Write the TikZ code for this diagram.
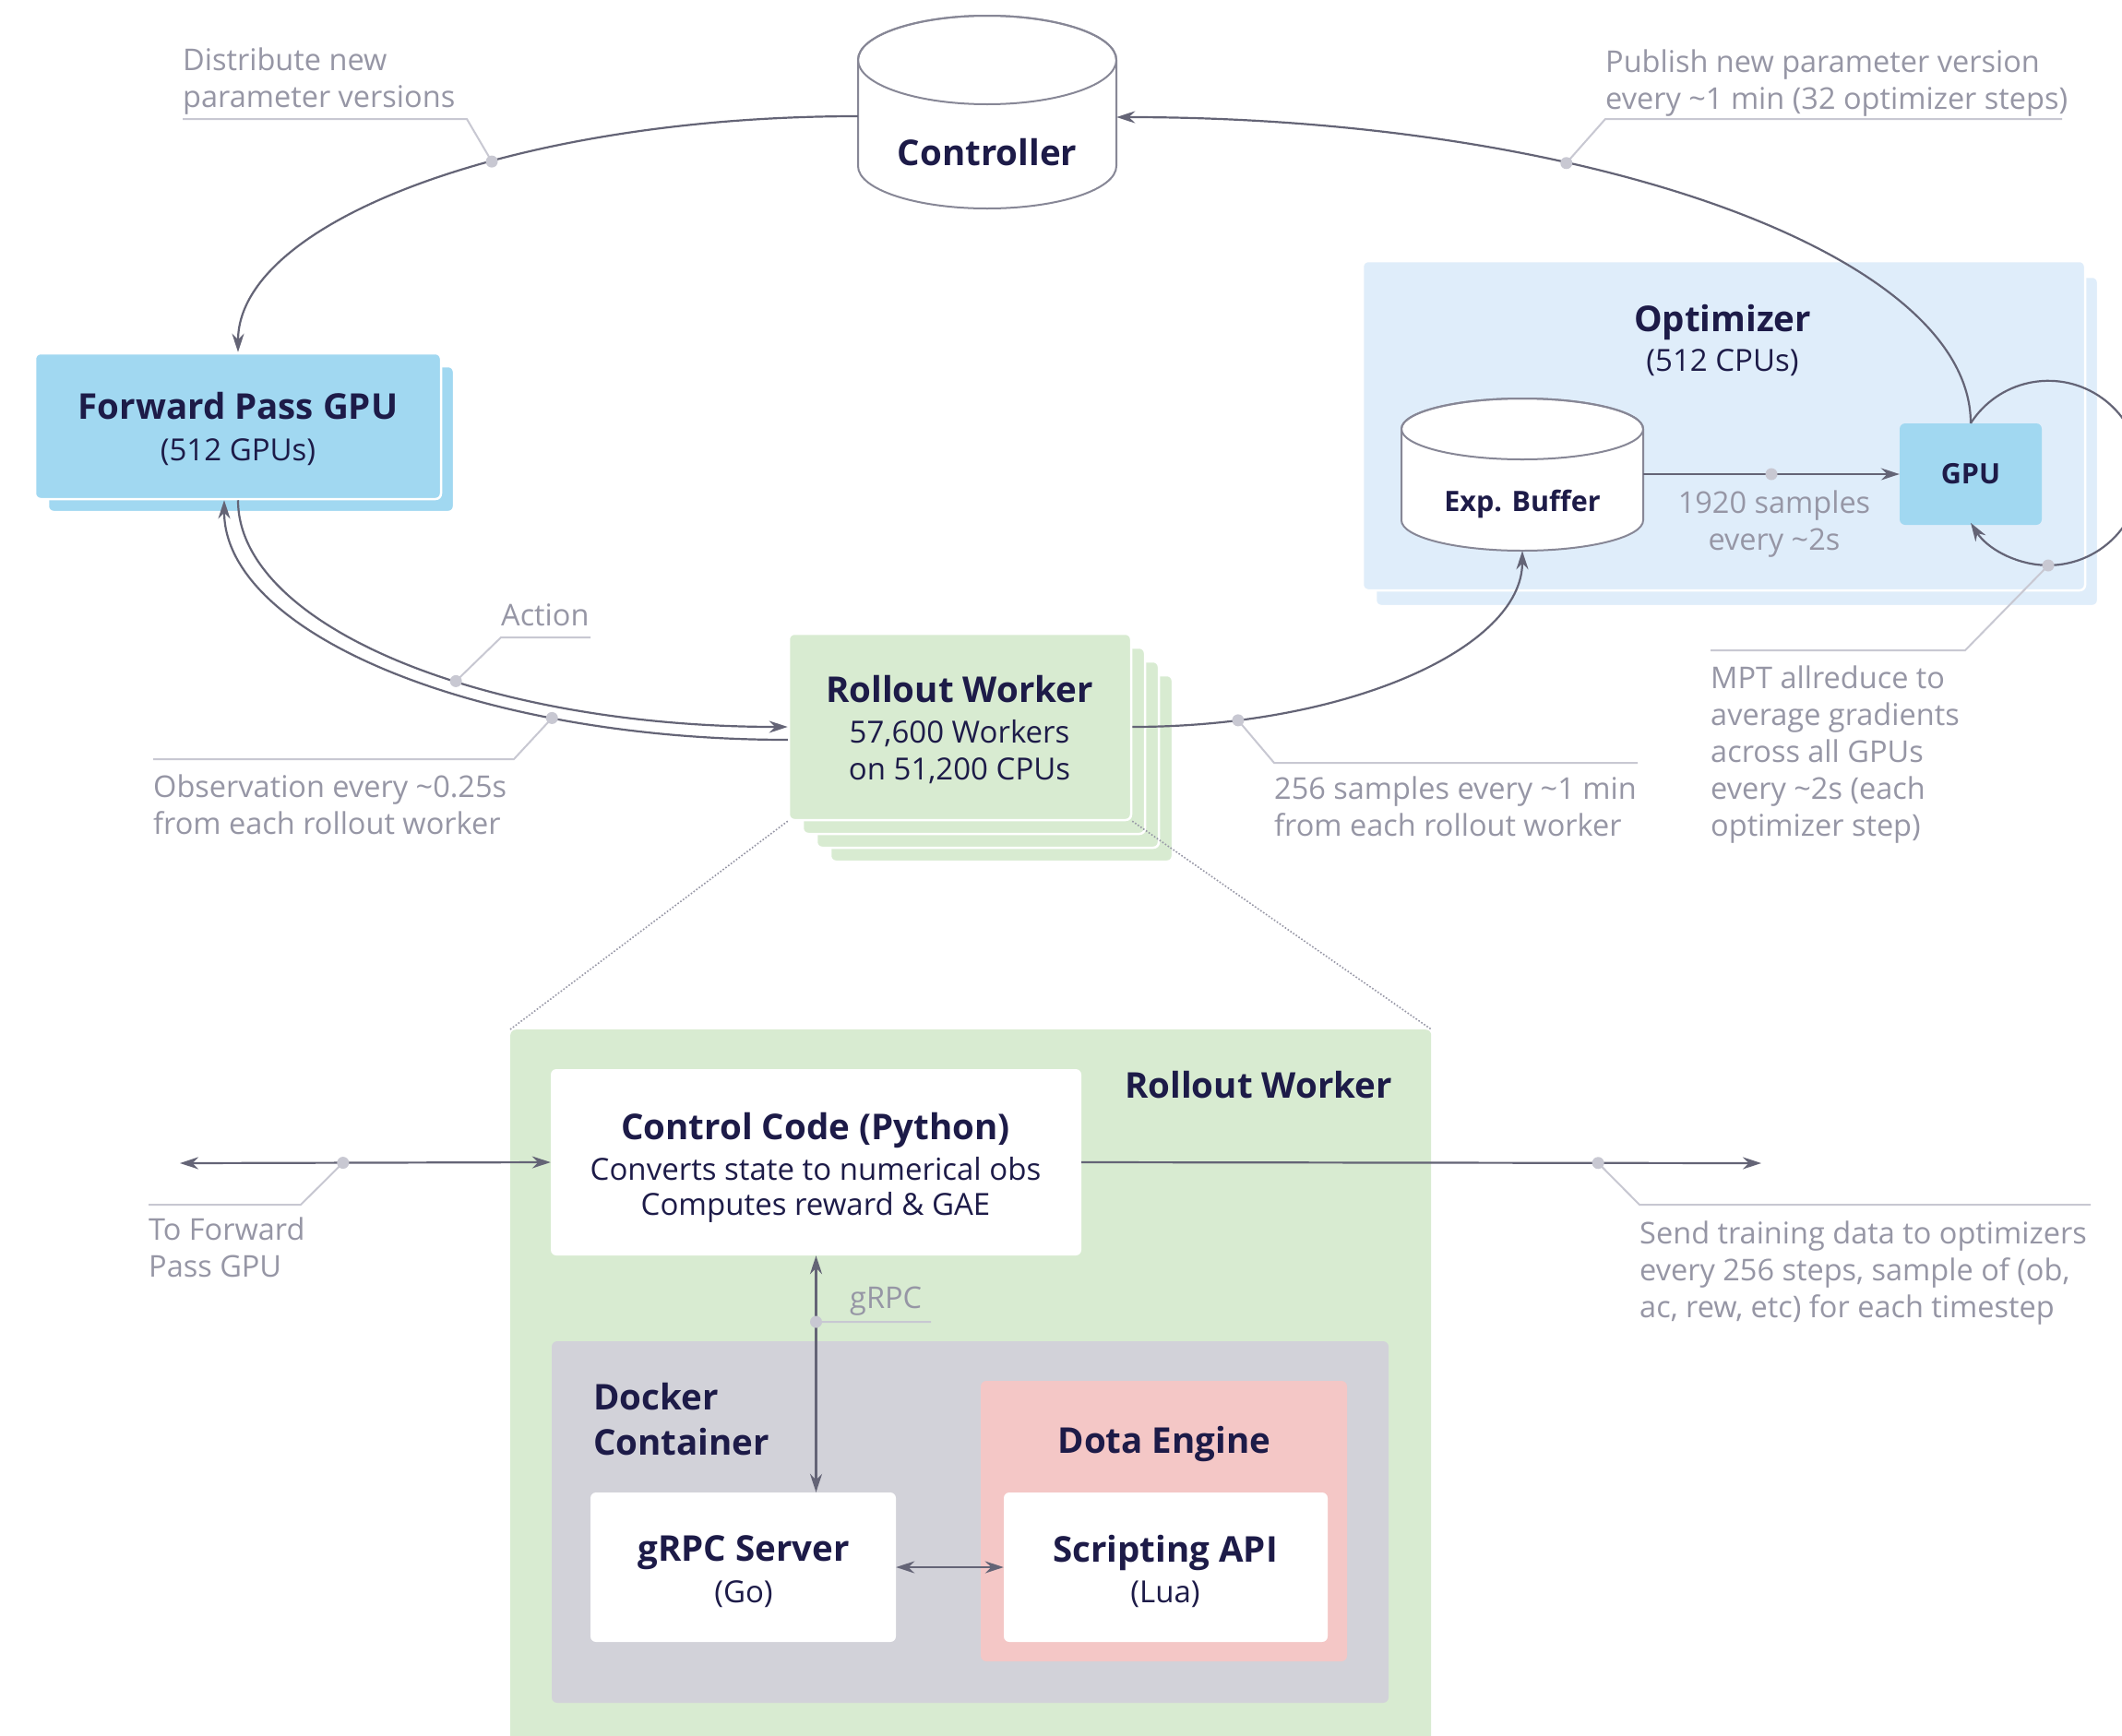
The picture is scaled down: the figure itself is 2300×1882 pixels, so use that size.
\documentclass[tikz,border=0pt]{standalone}
\usepackage{fontspec}
\setmainfont{Open Sans}
\usetikzlibrary{arrows.meta,calc}
\definecolor{navy}{RGB}{29,27,72}
\definecolor{labgray}{RGB}{150,150,165}
\definecolor{leadgray}{RGB}{200,200,210}
\definecolor{conngray}{RGB}{100,100,118}
\definecolor{cylgray}{RGB}{135,135,150}
\definecolor{fwdblue}{RGB}{161,216,241}
\definecolor{optblue}{RGB}{223,237,250}
\definecolor{rwgreen}{RGB}{216,235,209}
\definecolor{dockgray}{RGB}{210,210,217}
\definecolor{dotapink}{RGB}{244,199,198}
\begin{document}
\begin{tikzpicture}[x=1pt,y=-1pt,
 sbox/.style={rectangle, rounded corners=6pt, draw=white, line width=2.5pt, inner sep=0pt},
 flat/.style={rectangle, rounded corners=6pt, draw=none, inner sep=0pt},
 ttl/.style={font=\fontsize{38.5}{46}\selectfont\bfseries, text=navy, inner sep=0pt},
 sttl/.style={font=\fontsize{30.5}{36}\selectfont\bfseries, text=navy, inner sep=0pt},
 bdy/.style={font=\fontsize{33}{40}\selectfont, text=navy, inner sep=0pt},
 lab/.style={font=\fontsize{32.5}{40}\selectfont, text=labgray, align=left, inner sep=0pt},
 conn/.style={draw=conngray, line width=2.2pt},
 arrowend/.style={-{Stealth[length=20pt,width=13pt]}},
 arrowboth/.style={{Stealth[length=20pt,width=13pt]}-{Stealth[length=20pt,width=13pt]}},
 leader/.style={draw=leadgray, line width=2pt},
 cyl/.style={draw=cylgray, line width=2pt, fill=white},
 dotline/.style={draw=labgray, line width=1.6pt, dotted},
 ldot/.style={fill=leadgray}
]
\useasboundingbox (0,0) rectangle (2300,1882);
\fill[white] (0,0) rectangle (2300,1882);

% ---------- Forward pass GPU
\node[sbox, fill=fwdblue, minimum width=440pt, minimum height=158pt] (fwdsh) at (272,476) {};
\node[sbox, fill=fwdblue, minimum width=440pt, minimum height=158pt] (fwd) at (258,462) {};
\node[ttl, anchor=base] (fwdT) at (258,454) {Forward Pass GPU};
\node[bdy, anchor=base] (fwdS) at (258,499) {(512 GPUs)};

% ---------- Controller cylinder
\filldraw[cyl] (930,65) -- (930,180) arc[start angle=180,end angle=0,x radius=140,y radius=46] -- (1210,65) arc[start angle=0,end angle=-180,x radius=140,y radius=48] -- cycle;
\draw[cyl, fill=none] (1070,65) ellipse[x radius=140, y radius=48];
\node[inner sep=0pt, minimum width=280pt, minimum height=161pt] (ctrl) at (1070,145.5) {};
\node[ttl, anchor=base] (ctrlT) at (1070,179) {Controller};

% ---------- Optimizer
\node[sbox, fill=optblue, minimum width=783pt, minimum height=357pt] (optsh) at (1882.5,478.5) {};
\node[sbox, fill=optblue, minimum width=783pt, minimum height=357pt] (opt) at (1868.5,461.5) {};
\node[ttl, anchor=base] (optT) at (1867,359) {Optimizer};
\node[bdy, anchor=base] (optS) at (1867,402) {(512 CPUs)};
\node[flat, fill=fwdblue, minimum width=154pt, minimum height=110pt, sttl] (gpu) at (2136,514) {GPU};

% Exp. Buffer cylinder
\filldraw[cyl] (1519,465) -- (1519,564) arc[start angle=180,end angle=0,x radius=131,y radius=33] -- (1781,465) arc[start angle=0,end angle=-180,x radius=131,y radius=33] -- cycle;
\draw[cyl, fill=none] (1650,465) ellipse[x radius=131, y radius=33];
\node[inner sep=0pt, minimum width=262pt, minimum height=132pt] (expbuf) at (1650,531) {};
\node[sttl, anchor=base] (expbufT) at (1650,554) {Exp. Buffer};

% ---------- Rollout worker stack
\node[sbox, fill=rwgreen, minimum width=371pt, minimum height=202pt] (rw3) at (1085.5,833) {};
\node[sbox, fill=rwgreen, minimum width=371pt, minimum height=202pt] (rw2) at (1070.5,818) {};
\node[sbox, fill=rwgreen, minimum width=371pt, minimum height=202pt] (rw1) at (1055.5,803) {};
\node[sbox, fill=rwgreen, minimum width=371pt, minimum height=202pt] (rw) at (1040.5,788) {};
\node[ttl, anchor=base] (rwT) at (1040,761) {Rollout Worker};
\node[bdy, anchor=base] (rwS1) at (1040,805) {57,600 Workers};
\node[bdy, anchor=base] (rwS2) at (1040,845) {on 51,200 CPUs};

% ---------- Rollout worker detail panel
\node[flat, fill=rwgreen, minimum width=998pt, minimum height=800pt, anchor=north west] (rwp) at (553,1116) {};
\draw[dotline] (rw.south west) -- (rwp.north west);
\draw[dotline] (rw.south east) -- (rwp.north east);
\node[ttl, anchor=base] (rwpT) at (1364,1190) {Rollout Worker};

\node[flat, fill=white, minimum width=575pt, minimum height=202pt] (ccode) at (884.5,1260) {};
\node[ttl, anchor=base] (ccodeT) at (884,1235) {Control Code (Python)};
\node[bdy, anchor=base] (ccodeS1) at (884,1279) {Converts state to numerical obs};
\node[bdy, anchor=base] (ccodeS2) at (884,1317) {Computes reward \& GAE};

\node[flat, fill=dockgray, minimum width=907pt, minimum height=392pt] (dock) at (1051.5,1650) {};
\node[ttl, anchor=base west] (dockT1) at (643,1528) {Docker};
\node[ttl, anchor=base west] (dockT2) at (643,1577) {Container};

\node[flat, fill=dotapink, minimum width=397pt, minimum height=304pt] (dota) at (1261.5,1649) {};
\node[ttl, anchor=base] (dotaT) at (1262,1575) {Dota Engine};

\node[flat, fill=white, minimum width=331pt, minimum height=162pt] (grpcs) at (805.5,1699) {};
\node[ttl, anchor=base] (grpcsT) at (806,1692) {gRPC Server};
\node[bdy, anchor=base] (grpcsS) at (806,1737) {(Go)};

\node[flat, fill=white, minimum width=351pt, minimum height=162pt] (script) at (1263.5,1699) {};
\node[ttl, anchor=base] (scriptT) at (1263,1693) {Scripting API};
\node[bdy, anchor=base] (scriptS) at (1263,1737) {(Lua)};

% ---------- connectors
\draw[conn, arrowend] ([yshift=19.5pt]ctrl.west) .. controls +(-371,0) and +(0,-142) .. (fwd.north) coordinate[pos=0.4] (d1);
\draw[conn, arrowend] (gpu.north) .. controls +(0,-183) and +(511,0) .. ([yshift=18.5pt]ctrl.east) coordinate[pos=0.65] (d2);
\draw[conn, arrowend] (fwd.south) .. controls +(0,136) and +(-330,0) .. (rw.west) coordinate[pos=0.59] (dA);
\draw[conn, arrowend] ([yshift=-14pt]rw.west) .. controls +(-338,0) and +(0,144) .. ([xshift=-15pt]fwd.south) coordinate[pos=0.27] (dO);
\draw[conn, arrowend] (rw.east) .. controls +(234,0) and +(0,105) .. (expbuf.south) coordinate[pos=0.17] (dE);
\draw[conn, arrowend] (expbuf.east |- gpu.west) -- (gpu.west) coordinate[pos=0.5] (dB);
\draw[conn, arrowend] (gpu.north) arc[start angle=212.7, end angle=507.3, radius=100];
\coordinate (dL) at (2220,613);

\coordinate (tofwd) at (195,1261);
\coordinate (toopt) at (1909,1261);
\draw[conn, arrowboth] (tofwd) -- (ccode.west) coordinate[pos=0.44] (dF);
\draw[conn, arrowend] (ccode.east) -- (toopt) coordinate[pos=0.76] (dS);
\draw[conn, arrowboth] (ccode.south) -- (ccode.south |- grpcs.north) coordinate[pos=0.28] (dG);
\draw[conn, arrowboth] (grpcs.east) -- (script.west);

% ---------- labels and leaders (anchor = baseline of the last line)
\coordinate (u1a) at (506,129); \coordinate (u1b) at (198,129);
\draw[leader] (d1) -- (u1a) -- (u1b);
\node[lab, anchor=base west] (l1) at (198,116) {Distribute new\\parameter versions};

\coordinate (u2a) at (1740,129); \coordinate (u2b) at (2235,129);
\draw[leader] (d2) -- (u2a) -- (u2b);
\node[lab, anchor=base west] (l2) at (1740,118) {Publish new parameter version\\every \textasciitilde1 min (32 optimizer steps)};

\coordinate (uAa) at (543,691); \coordinate (uAb) at (640,691);
\draw[leader] (dA) -- (uAa) -- (uAb);
\node[lab, anchor=base west] (lA) at (543,678) {Action};

\coordinate (uOa) at (557,823); \coordinate (uOb) at (166,823);
\draw[leader] (dO) -- (uOa) -- (uOb);
\node[lab, anchor=base west] (lO) at (166,904) {Observation every \textasciitilde0.25s\\from each rollout worker};

\coordinate (uEa) at (1381,827); \coordinate (uEb) at (1775,827);
\draw[leader] (dE) -- (uEa) -- (uEb);
\node[lab, anchor=base west] (lE) at (1381,906) {256 samples every \textasciitilde1 min\\from each rollout worker};

\coordinate (uLa) at (2130,705); \coordinate (uLb) at (1854,705);
\draw[leader] (dL) -- (uLa) -- (uLb);
\node[lab, anchor=base west] (lM) at (1854,906) {MPT allreduce to\\average gradients\\across all GPUs\\every \textasciitilde2s (each\\optimizer step)};

\node[lab, align=center, anchor=base] (lB) at (1923,596) {1920 samples\\every \textasciitilde2s};

\coordinate (uFa) at (326,1306); \coordinate (uFb) at (161,1306);
\draw[leader] (dF) -- (uFa) -- (uFb);
\node[lab, anchor=base west] (lF) at (161,1384) {To Forward\\Pass GPU};

\coordinate (uSa) at (1777,1306); \coordinate (uSb) at (2266,1306);
\draw[leader] (dS) -- (uSa) -- (uSb);
\node[lab, anchor=base west] (lS) at (1777,1428) {Send training data to optimizers\\every 256 steps, sample of (ob,\\ac, rew, etc) for each timestep};

\coordinate (uGa) at (1009,1433);
\draw[leader] (dG) -- (uGa);
\node[lab, anchor=base west] (lG) at (921,1418) {gRPC};

\foreach \d in {d1,d2,dA,dO,dE,dB,dL,dF,dS,dG} {\fill[ldot] (\d) circle[radius=6.5pt];}
\end{tikzpicture}
\end{document}
